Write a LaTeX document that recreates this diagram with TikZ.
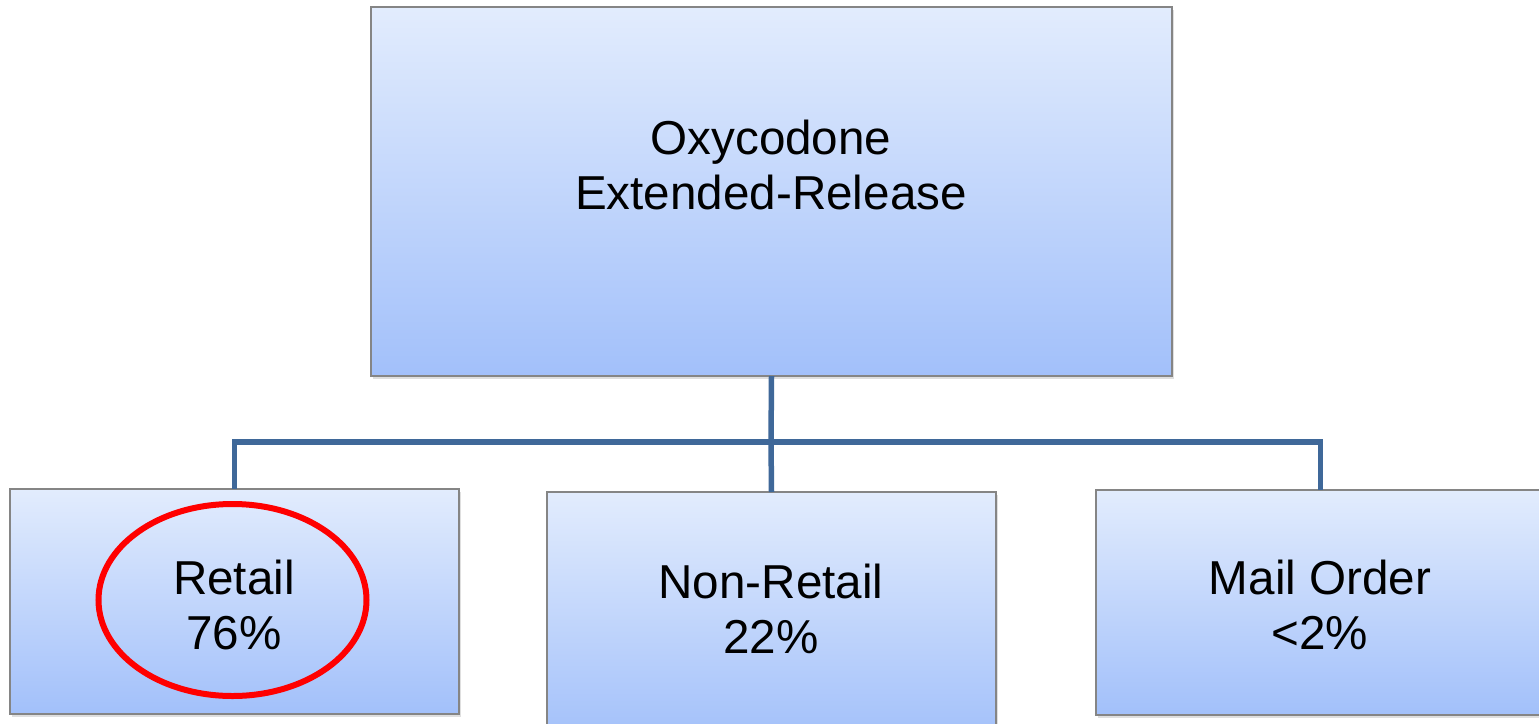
\documentclass[tikz,border=0pt]{standalone}
\usepackage{fontspec}
\setmainfont{Liberation Sans}
\usetikzlibrary{shadows}
\definecolor{boxtop}{HTML}{E2ECFD}
\definecolor{boxbot}{HTML}{A2C0FA}
\definecolor{boxline}{HTML}{858585}
\definecolor{buscol}{HTML}{3F6899}
\definecolor{ringred}{HTML}{FF0000}
\tikzset{
  unit/.style={draw=boxline, line width=1.6pt, top color=boxtop, bottom color=boxbot,
    inner sep=0pt, outer sep=0pt,
    drop shadow={opacity=0.25, shadow xshift=2pt, shadow yshift=-3pt}},
  caption/.style={font=\fontsize{47.6}{55}\selectfont, align=center, inner sep=0pt},
  link/.style={draw=buscol, line width=5.5pt, line join=miter},
  ring/.style={draw=ringred, line width=6pt}
}
\begin{document}
\begin{tikzpicture}[x=1pt,y=-1pt]
  \useasboundingbox (0,0) rectangle (1539,723);
  \clip (0,0) rectangle (1539,723);
  \fill[white] (0,0) rectangle (1539,723);

  % boxes
  \node[unit, minimum width=801pt, minimum height=369pt] (top) at (771.5,191.5) {};
  \node[unit, minimum width=449pt, minimum height=225pt] (retail) at (234.5,601.5) {};
  \node[unit, minimum width=449pt, minimum height=250pt] (nonretail) at (771.5,617) {};
  \node[unit, minimum width=449pt, minimum height=225pt] (mail) at (1320.5,602.5) {};

  % connectors
  \coordinate (bus) at (771,442);
  \draw[link] (top.south) -- (bus);
  \draw[link] (bus) -- (nonretail.north);
  \draw[link] (bus) -| (retail.north);
  \draw[link] (bus) -| (mail.north);

  % captions
  \node[caption] (toptext) at (771,165) {Oxycodone\\Extended-Release};
  \node[caption] (retailtext) at (234,605) {Retail\\76\%};
  \node[caption] (nonretailtext) at (771,609) {Non-Retail\\22\%};
  \node[caption] (mailtext) at (1320,605) {Mail Order\\<2\%};

  % highlight
  \draw[ring] (232.5,600) ellipse [x radius=134pt, y radius=96pt];
\end{tikzpicture}
\end{document}
